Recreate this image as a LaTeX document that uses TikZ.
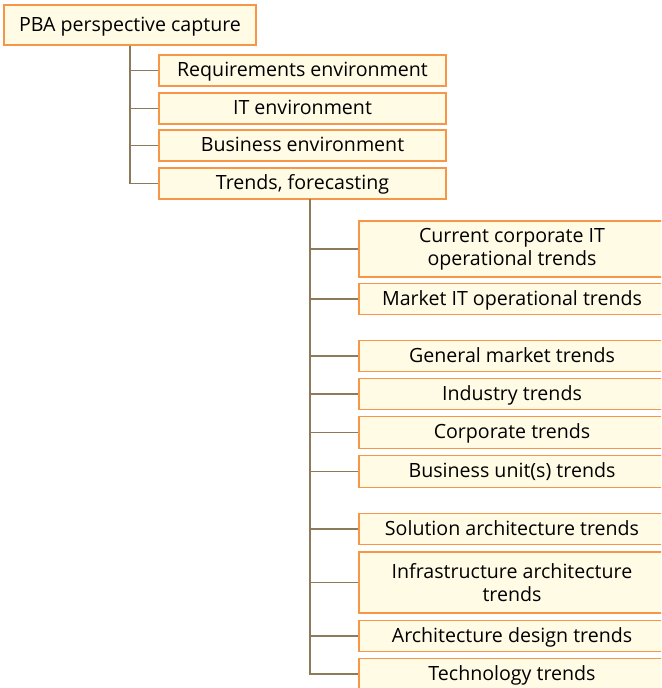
\documentclass[tikz,border=0pt]{standalone}
\usepackage{fontspec}
\setmainfont{Open Sans}
\usepackage{tikz}
\usetikzlibrary{arrows.meta, calc}
\definecolor{boxFill}{RGB}{255,251,229}
\definecolor{boxLine}{RGB}{247,150,70}
\definecolor{linkLine}{RGB}{140,122,90}
\tikzset{
  item/.style={draw=boxLine, fill=boxFill, line width=1.1pt, rectangle,
    inner sep=0pt, align=center, font=\fontsize{14.7}{17.5}\selectfont},
  oneline/.style={item, text height=11pt, text depth=1.5pt},
  link/.style={draw=linkLine, line width=1.1pt}
}

\begin{document}
\begin{tikzpicture}[x=0.75pt, y=-0.75pt]
  \useasboundingbox (0,0) rectangle (661,688);
  \clip (0,0) rectangle (661,688);

  % root and first level
  \node[oneline, minimum width=252*0.75pt, minimum height=40*0.75pt] (root) at (130,25) {PBA perspective capture};
  \foreach \n/\y/\t in {req/70.5/Requirements environment, itenv/108.5/IT environment,
      busenv/145.5/Business environment, trends/183.5/{Trends, forecasting}}
    \node[oneline, minimum width=287*0.75pt, minimum height=31*0.75pt] (\n) at (302.5,\y) {\t};
  \foreach \n in {req, itenv, busenv, trends}
    \draw[link] (root.south) |- (\n.west);

  % second level under trends
  \node[item, minimum width=306*0.75pt, minimum height=56*0.75pt] (cur) at (512,249) {Current corporate IT\\operational trends};
  \node[item, minimum width=306*0.75pt, minimum height=61*0.75pt] (infra) at (512,582.5) {Infrastructure architecture\\trends};
  \foreach \n/\y/\t in {mkt/299/Market IT operational trends, gen/356/General market trends,
      ind/394/Industry trends, corp/432.5/Corporate trends,
      bu/471.5/Business unit(s) trends, sol/529/Solution architecture trends,
      arch/636/Architecture design trends, tech/674/Technology trends}
    \node[oneline, minimum width=306*0.75pt, minimum height=31.5*0.75pt] (\n) at (512,\y) {\t};
  \coordinate (fork) at (310,199);
  \foreach \n in {cur, mkt, gen, ind, corp, bu, sol, infra, arch, tech}
    \draw[link] (fork) |- (\n.west);
\end{tikzpicture}
\end{document}
